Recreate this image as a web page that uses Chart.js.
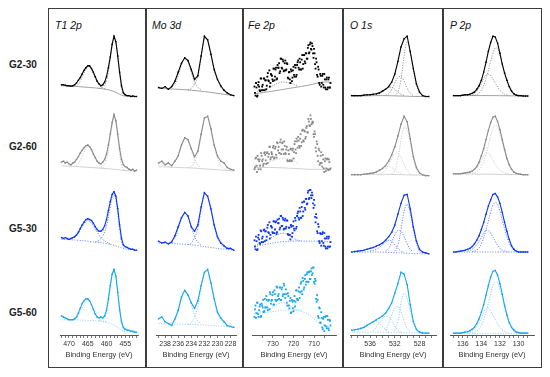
<!DOCTYPE html>
<html>
<head>
<meta charset="utf-8">
<script src="https://cdn.jsdelivr.net/npm/chart.js@4.4.1/dist/chart.umd.min.js"></script>
<style>
  html, body { margin: 0; padding: 0; background: #fff; }
  #fig { position: relative; width: 550px; height: 377px; overflow: hidden; font-family: 'Liberation Sans', Arial, sans-serif; }
  #fig canvas { position: absolute; }
  .frame { position: absolute; left: 48px; top: 8px; width: 494px; height: 360px; box-sizing: border-box; border: 1.5px solid #3c3c3c; }
  .vline { position: absolute; top: 8px; width: 1.5px; height: 360px; background: #3c3c3c; }
  .row-label { position: absolute; left: 0; width: 46px; text-align: center; font-weight: bold; font-size: 10px; color: #222; }
  .title { position: absolute; top: 19px; font-style: italic; font-size: 10.5px; color: #111; }
</style>
</head>
<body>
<div id="fig">
  <div class="frame"></div>
  <div class="vline" style="left:145px"></div>
  <div class="vline" style="left:242px"></div>
  <div class="vline" style="left:342px"></div>
  <div class="vline" style="left:442px"></div>
</div>
<script>
// ---- sample names and panel titles ----
const rowNames = ['G2-30', 'G2-60', 'G5-30', 'G5-60'];
const panelTitles = ['T1 2p', 'Mo 3d', 'Fe 2p', 'O 1s', 'P 2p'];
const axisTitle = 'Binding Energy (eV)';

// ---- Ti 2p ----
const tiEnergy = [472,471.5,471,470.5,470,469.5,469,468.5,468,467.5,467,466.5,466,465.5,465,464.5,464,463.5,463,462.5,462,461.5,461,460.5,460,459.5,459,458.5,458,457.5,457,456.5,456,455.5,455,454.5,454,453.5,453,452.5,452];
const tiG230 = [18,18,17.5,17,17,16.5,17,18,20,23,26,30,34,37,39,39,36,32,27,22,19,17,18,21,27,37,49,63,72,66,50,32,17,9,7,6,6,5,5.5,5,5];
const tiG260 = [21,22,20,21,19,18,20,21,24,27,31,34,37,39,40,38,35,30,26,22,20,19,21,24,30,40,52,65,74,67,52,36,24,18,16,15,13,12,13,11,12];
const tiG530 = [26,25,26,25,24,25,26,27,29,32,36,40,43,46,47,46,45,42,38,35,33,33,35,39,46,56,66,74,77,72,58,40,25,18,16,15,14,13,13,12,12];
const tiG560 = [20,19,18,17,16,16,16,17,19,23,28,33,36,38,38,36,32,27,22,19,18,19,18,20,26,38,52,64,69,62,45,27,14,8,6,5,5,4,4,3,3];
const tiBg = [
  [[472,17],[469,16.5],[466,15.5],[463,14.5],[461,13.5],[459.5,12.5],[458,10.5],[457,8.5],[456,6.5],[455,5.5],[452,5]],
  [[472,17],[468,16],[464,15],[461,14],[459,13.5],[457,12.5],[455,11.5],[452,11]],
  [[472,24],[469,23.5],[466,22.5],[463,21],[461,20],[459,18.5],[457,16],[455,13.5],[452,12]],
  [[472,16],[469,16],[466,15.5],[463,15],[461,14],[459,12],[457,8],[456,5],[455,3.5],[452,3]]
];
const tiFits = [
  [[[468,16],[467,22],[466,31],[465,38],[464.5,38.5],[464,35],[463,26],[462,18],[461,14.5],[460,13]],
   [[462,14],[461,15.5],[460,23],[459,46],[458.5,61],[458,70],[457.5,64],[457,48],[456.5,30],[456,15],[455.5,8],[455,6]]],
  [[[468,17],[467,23],[466,32],[465,38],[464.5,38],[464,34],[463,25],[462,18],[461,15],[460,14]],
   [[462,14.5],[461,16],[460,24],[459,48],[458.5,61],[458,70],[457.5,64],[457,48],[456.5,30],[456,17],[455.5,13],[455,12]]],
  [[[470,24],[469,25],[468,28],[467,34],[466,41],[465,45],[464.5,44],[464,42],[463,36],[462,29],[461,24],[460,21],[459,19]],
   [[463,21],[462,23],[461,28],[460,39],[459,60],[458.5,70],[458,74],[457.5,68],[457,53],[456.5,36],[456,22],[455.5,16],[455,14]]],
  [[[469,16],[468,18],[467,25],[466,32],[465,37],[464.5,36],[464,32],[463,24],[462,18],[461,15],[460,14]],
   [[462,15],[461,16.5],[460,24],[459,50],[458.5,62],[458,67],[457.5,61],[457,44],[456.5,26],[456,12],[455.5,6],[455,4]]]
];
const tiTicks = [472,471,470,469,468,467,466,465,464,463,462,461,460,459,458,457,456,455,454,453,452];
const tiLabels = [470,465,460,455];

// ---- Mo 3d ----
const moEnergy = [239,238.5,238,237.5,237,236.5,236,235.5,235,234.5,234,233.5,233,232.5,232,231.5,231,230.5,230,229.5,229,228.5,228,227.5];
const moG230 = [15,14,16,13,16,22,32,42,48,45,35,24,28,50,72,68,52,35,24,17,12,9,7,6];
const moG260 = [20,22,18,20,17,22,28,40,48,46,36,27,33,52,70,72,58,40,28,22,20,15,13,12];
const moG530 = [22,20,21,19,21,28,38,48,54,50,38,33,40,60,76,72,58,40,27,20,17,14,14,12];
const moG560 = [17,19,14,12,10,17,26,40,47,42,34,28,36,52,66,69,55,38,24,18,14,10,9,8];
const moBg = [
  [[239,14],[236,13],[234,12],[232,10.5],[230,8.5],[228,6.5],[227.5,6]],
  [[239,16],[236,15],[234,14.5],[232,13.5],[230,12.5],[228,11.5],[227.5,11]],
  [[239,20],[236,19],[234,18],[232,16],[230,14],[228,12.5],[227.5,12]],
  [[239,12],[236,11.5],[234,11],[232,10.5],[230,9.5],[228,8.5],[227.5,8]]
];
const moFits = [
  [[[237.5,13.5],[236.5,19],[236,28],[235.5,40],[235,47],[234.5,43],[234,32],[233.5,21],[233,15],[232.5,12.5]],
   [[234.5,12],[234,14],[233.5,19],[233,27],[232.5,48],[232,70],[231.5,67],[231,51],[230.5,34],[230,23],[229.5,15],[229,11],[228.5,8],[228,7]]],
  [[[237.5,16],[236.5,21],[236,29],[235.5,40],[235,47],[234.5,44],[234,34],[233.5,24],[233,18],[232.5,15]],
   [[234.5,14.5],[234,16],[233.5,21],[233,30],[232.5,50],[232,68],[231.5,71],[231,57],[230.5,38],[230,25],[229.5,17],[229,14],[228.5,12],[228,11.5]]],
  [[[237.5,19.5],[236.5,26],[236,36],[235.5,47],[235,53],[234.5,49],[234,38],[233.5,27],[233,21],[232.5,18]],
   [[234.5,18],[234,20],[233.5,26],[233,36],[232.5,57],[232,74],[231.5,71],[231,57],[230.5,39],[230,26],[229.5,19],[229,15.5],[228.5,13.5],[228,12.5]]],
  [[[237.5,11.5],[236.5,16],[236,25],[235.5,39],[235,46],[234.5,42],[234,32],[233.5,21],[233,15],[232.5,12]],
   [[234.5,11],[234,13],[233.5,19],[233,30],[232.5,50],[232,65],[231.5,68],[231,54],[230.5,37],[230,23],[229.5,16],[229,12],[228.5,9.5],[228,8.5]]]
];
const moTicks = [239,238,237,236,235,234,233,232,231,230,229,228];
const moLabels = [238,236,234,232,230,228];

// ---- Fe 2p (two interleaved scans) ----
const feEnergyA = [739,738.5,738,737.5,737,736.5,736,735.5,735,734.5,734,733.5,733,732.5,732,731.5,731,730.5,730,729.5,729,728.5,728,727.5,727,726.5,726,725.5,725,724.5,724,723.5,723,722.5,722,721.5,721,720.5,720,719.5,719,718.5,718,717.5,717,716.5,716,715.5,715,714.5,714,713.5,713,712.5,712,711.5,711,710.5,710,709.5,709,708.5,708,707.5,707,706.5,706,705.5,705,704.5,704,703.5,703,702.5,702];
const feEnergyB = [738.75,738.25,737.75,737.25,736.75,736.25,735.75,735.25,734.75,734.25,733.75,733.25,732.75,732.25,731.75,731.25,730.75,730.25,729.75,729.25,728.75,728.25,727.75,727.25,726.75,726.25,725.75,725.25,724.75,724.25,723.75,723.25,722.75,722.25,721.75,721.25,720.75,720.25,719.75,719.25,718.75,718.25,717.75,717.25,716.75,716.25,715.75,715.25,714.75,714.25,713.75,713.25,712.75,712.25,711.75,711.25,710.75,710.25,709.75,709.25,708.75,708.25,707.75,707.25,706.75,706.25,705.75,705.25,704.75,704.25,703.75,703.25,702.75,702.25];
const feG230A = [16,6,15,6,21,12,25,12,18,25,12,23,17,31,22,16,30,28,22,36,27,37,25,37,42,33,47,36,44,34,45,35,41,25,32,20,33,26,38,27,37,29,43,37,47,35,46,36,51,44,53,47,59,53,63,58,64,53,58,41,47,29,38,20,30,16,28,18,30,15,24,13,24,15,20];
const feG230B = [9,20,5,18,16,11,25,16,12,25,23,13,27,23,34,20,29,24,36,23,35,24,40,37,31,47,37,46,33,42,34,42,26,32,24,35,22,34,29,40,27,40,45,35,43,35,51,41,51,42,53,47,62,54,65,57,61,48,53,36,43,27,35,18,28,20,30,15,24,13,26,15,26,15];
const feG260A = [13,25,17,28,13,24,13,28,24,19,32,23,31,20,30,38,26,30,37,25,36,29,43,34,31,43,30,42,35,44,31,35,23,34,22,35,22,34,25,41,35,47,37,45,37,52,43,57,44,55,49,61,54,66,61,69,64,65,49,52,33,41,22,34,20,32,16,24,10,25,14,25,12,21,14];
const feG260B = [15,26,10,24,22,17,31,22,17,31,29,19,32,27,38,24,32,27,39,26,38,26,42,38,31,46,35,43,30,39,30,38,22,30,23,36,23,36,32,44,31,44,49,39,47,39,56,45,56,47,59,54,69,62,73,63,66,52,55,37,44,28,36,18,28,20,29,14,22,11,24,13,24,13];
const feG530A = [23,13,22,13,29,20,34,21,27,34,22,33,27,40,31,25,39,37,31,44,35,44,32,42,47,37,50,39,46,36,47,38,45,29,37,24,38,31,44,34,45,38,53,48,59,48,60,50,66,59,69,63,76,69,79,73,76,64,68,49,52,33,41,22,31,17,30,20,31,16,25,14,25,16,21];
const feG530B = [16,27,12,26,24,19,33,25,21,35,33,23,37,32,43,29,38,32,44,31,43,30,46,42,35,50,39,48,35,45,36,45,30,37,29,40,27,39,36,48,36,50,55,46,55,48,65,55,66,57,69,64,78,70,79,70,73,59,62,43,48,31,38,20,30,22,32,17,25,14,27,16,27,16];
const feG560A = [19,31,23,34,19,30,19,33,29,24,38,29,37,26,37,45,33,37,45,32,43,36,50,41,38,50,37,50,43,52,39,43,31,41,28,39,24,35,25,41,35,47,37,46,39,54,46,60,48,59,53,64,56,66,59,67,63,71,56,59,38,42,20,29,13,24,8,17,4,19,9,20,7,16,10];
const feG560B = [27,18,34,22,26,32,20,31,37,25,29,41,29,36,27,43,36,42,32,47,37,51,37,43,50,37,48,41,54,43,48,34,44,31,36,23,37,28,36,30,47,38,37,50,45,56,43,57,50,63,56,66,56,67,59,70,65,71,54,57,35,37,18,28,13,18,6,19,10,20,7,16,5,15];
const feBg = [
  [[739,8],[730,11],[722,14],[714,17],[710,19],[706,21],[702,21]],
  [[739,15],[730,15],[720,14],[712,13],[707,13],[702,13]],
  [[739,16],[730,20],[722,22],[712,22],[706,22],[702,21]],
  [[739,22],[732,24],[725,26],[718,26],[713,22],[709,15],[705,10],[702,9]]
];
const feFits = [
  [[[739,9],[731,16],[726,21],[722,20],[718,17]]],
  [[[739,16],[732,21],[726,25],[722,24],[718,20]]],
  [[[739,17],[733,23],[728,29],[725,31],[722,28],[719,24],[716,22]]],
  [[[739,23],[733,26],[728,32],[725,34],[722,31],[719,27],[716,26]]]
];
const feTicks = [735,730,725,720,715,710,705];
const feLabels = [730,720,710];

// ---- O 1s ----
const oEnergy = [539,538.5,538,537.5,537,536.5,536,535.5,535,534.5,534,533.5,533,532.5,532,531.5,531,530.5,530,529.5,529,528.5,528,527.5,527,526.5];
const oG230 = [6,6,6,6,6.5,7,7,7.5,8,9,11,13,16,21,30,44,60,69,72,55,36,19,10,6,5,5];
const oG260 = [7,7,7,7,7.5,8,8.5,9,10,12,14,17,22,29,38,50,63,72,66,47,27,15,9,7,6,6];
const oG530 = [10,10.5,11,11.5,12,13,14,15,16.5,18,20,23,27,32,40,52,64,73,74,58,38,22,13,10,9,8];
const oG560 = [5,5.5,6,7,8,10,12,14,16,18,20,23,28,34,44,54,66,64,53,32,14,6,3,2,2,2];
const oBg = [
  [[539,5.5],[534,6],[531,5.5],[528,5],[526.5,5]],
  [[539,7],[534,7.5],[531,7],[528,6.5],[526.5,6]],
  [[539,9.5],[535,10],[531,9],[528,8],[526.5,8]],
  [[539,3],[535,3],[531,2.5],[528,2],[526.5,2]]
];
const oFits = [
  [[[532,6],[531.5,10],[531,24],[530.5,50],[530,66],[529.5,53],[529,35],[528.5,18],[528,9],[527.5,6],[527,5]],
   [[533.5,6],[533,8],[532.5,13],[532,20],[531.5,26],[531,27],[530.5,22],[530,14],[529.5,9],[529,6]],
   [[535,6.5],[534.5,8],[534,10],[533.5,13],[533,15],[532.5,15],[532,13],[531.5,10],[531,7.5],[530.5,6]]],
  [[[532.5,8],[532,12],[531.5,25],[531,45],[530.5,60],[530,57],[529.5,42],[529,25],[528.5,13],[528,8]],
   [[534,9],[533.5,12],[533,18],[532.5,25],[532,30],[531.5,31],[531,26],[530.5,18],[530,12],[529.5,8]],
   [[536,8],[535,9.5],[534.5,11],[534,13],[533.5,15],[533,16],[532.5,15],[532,12],[531.5,10],[531,8]]],
  [[[532,11],[531.5,18],[531,35],[530.5,55],[530,63],[529.5,53],[529,35],[528.5,20],[528,11],[527.5,8.5]],
   [[533.5,11],[533,14],[532.5,21],[532,29],[531.5,34],[531,33],[530.5,27],[530,19],[529.5,13],[529,10]],
   [[536,11],[535,13],[534.5,15],[534,18],[533.5,21],[533,23],[532.5,22],[532,18],[531.5,14],[531,11],[530.5,9.5]]],
  [[[532,5],[531.5,15],[531,33],[530.5,44],[530,38],[529.5,25],[529,12],[528.5,5],[528,3]],
   [[533.5,5],[533,12],[532.5,21],[532,28],[531.5,30],[531,25],[530.5,15],[530,7],[529.5,3.5]],
   [[535.5,4],[535,8],[534.5,13],[534,17],[533.5,20],[533,19],[532.5,15],[532,9],[531.5,5],[531,3]],
   [[538,4],[537.5,6],[537,9],[536.5,11],[536,13],[535.5,14],[535,14],[534.5,12],[534,9],[533.5,6],[533,4]]]
];
const oTicks = [539,538,537,536,535,534,533,532,531,530,529,528,527,526];
const oLabels = [536,532,528];

// ---- P 2p ----
const pEnergy = [137,136.75,136.5,136.25,136,135.75,135.5,135.25,135,134.75,134.5,134.25,134,133.75,133.5,133.25,133,132.75,132.5,132.25,132,131.75,131.5,131.25,131,130.75,130.5,130.25,130,129.75,129.5,129.25,129];
const pG230 = [6,6,6,6,6.5,7,7,7.5,8.5,10,13,17,23,32,43,55,65,72,71,64,53,41,31,23,16,11,8,6.5,6,6,5.5,5.5,5.5];
const pG260 = [8,8,8,8,8.5,9,9.5,10,11,13,16,21,28,36,46,56,65,71,72,66,57,46,35,25,18,13,10,8.5,8,7.5,7,7,7];
const pG530 = [10,10,10.5,11,11.5,12,13,14,16,19,23,28,35,43,52,61,68,74,75,71,64,54,43,33,24,17,13,11,10,10,10,10,10];
const pG560 = [2,2,2,2,2.5,3,3.5,4.5,6,8,12,17,24,32,42,52,61,67,68,63,54,43,31,21,13,8,5,3,2.5,2,2,2,2];
const pBg = [
  [[137,6],[133,6],[129,5.5]],
  [[137,8],[133,7.5],[129,7]],
  [[137,10],[133,10],[129,10]],
  [[137,1.5],[133,1.5],[129,1.5]]
];
const pFits = [
  [[[135,6],[134.5,7],[134,12],[133.5,25],[133,44],[132.75,53],[132.5,59],[132.25,58],[132,51],[131.5,32],[131,16],[130.5,8],[130,6]],
   [[135.5,6],[135,7],[134.5,11],[134,19],[133.75,25],[133.5,29],[133.25,30],[133,28],[132.5,20],[132,12],[131.5,7.5],[131,6]]],
  [[[135,8.5],[134.5,10],[134,16],[133.5,30],[133,50],[132.75,58],[132.5,62],[132.25,60],[132,52],[131.5,34],[131,18],[130.5,10],[130,8]],
   [[135.5,8.5],[135,10],[134.5,15],[134,23],[133.75,28],[133.5,31],[133.25,31],[133,28],[132.5,19],[132,12],[131.5,9],[131,8]]],
  [[[135,10.5],[134.5,12],[134,19],[133.5,35],[133,54],[132.75,62],[132.5,65],[132.25,63],[132,55],[131.5,36],[131,20],[130.5,12],[130,10]],
   [[135.5,11],[135,13],[134.5,18],[134,26],[133.75,31],[133.5,34],[133.25,34],[133,31],[132.5,22],[132,14],[131.5,11],[131,10]]],
  [[[135,2],[134.5,4],[134,10],[133.5,24],[133,43],[132.75,52],[132.5,56],[132.25,55],[132,48],[131.5,31],[131,15],[130.5,6],[130,3]],
   [[135.5,2],[135,4],[134.5,9],[134,18],[133.75,24],[133.5,28],[133.25,28],[133,25],[132.5,16],[132,8],[131.5,4],[131,2]]]
];
const pTicks = [137,136.5,136,135.5,135,134.5,134,133.5,133,132.5,132,131.5,131,130.5,130,129.5,129];
const pLabels = [136,134,132,130];

// ---- styling / layout ----
const FONT = "'Liberation Sans', Arial, sans-serif";
const TICK_FONT = "'Liberation Sans Narrow', 'Liberation Sans', Arial, sans-serif";
const rowColors = ['#000000', '#8a8a8a', '#0b35f5', '#14a6f0'];
const fitColors = ['#8a8a8a', '#c6c6c6', '#5b7af7', '#86cdf4'];
const rowTops = [25, 105, 185, 255];
const rowLabelTops = [59, 141, 223, 307];
const PLOT_H = 80;
const AXIS_H = 24;

const columns = [
  { left: 56, width: 86, min: 451.6, max: 472.4, titleX: 55,
    series: [tiG230, tiG260, tiG530, tiG560].map(s => [[tiEnergy, s]]),
    bg: tiBg, fits: tiFits, ticks: tiTicks, labels: tiLabels, scatter: false },
  { left: 152, width: 88, min: 227.17, max: 239.39, titleX: 152,
    series: [moG230, moG260, moG530, moG560].map(s => [[moEnergy, s]]),
    bg: moBg, fits: moFits, ticks: moTicks, labels: moLabels, scatter: false },
  { left: 248, width: 92, min: 699.3, max: 740.2, titleX: 248,
    series: [[feG230A, feG230B], [feG260A, feG260B], [feG530A, feG530B], [feG560A, feG560B]]
      .map(([a, b]) => [[feEnergyA, a], [feEnergyB, b]]),
    bg: feBg, fits: feFits, ticks: feTicks, labels: feLabels, scatter: true },
  { left: 346, width: 94, min: 525.33, max: 539.26, titleX: 350,
    series: [oG230, oG260, oG530, oG560].map(s => [[oEnergy, s]]),
    bg: oBg, fits: oFits, ticks: oTicks, labels: oLabels, scatter: false },
  { left: 446, width: 92, min: 128.33, max: 137.38, titleX: 450,
    series: [pG230, pG260, pG530, pG560].map(s => [[pEnergy, s]]),
    bg: pBg, fits: pFits, ticks: pTicks, labels: pLabels, scatter: false }
];

const fig = document.getElementById('fig');

rowNames.forEach((name, r) => {
  const el = document.createElement('div');
  el.className = 'row-label';
  el.style.top = rowLabelTops[r] + 'px';
  el.textContent = name;
  fig.appendChild(el);
});

panelTitles.forEach((t, c) => {
  const el = document.createElement('div');
  el.className = 'title';
  el.style.left = columns[c].titleX + 'px';
  el.textContent = t;
  fig.appendChild(el);
});

const pairs = arr => arr.map(([x, y]) => ({ x, y }));

function makePanel(col, r) {
  const isBottom = r === 3;
  const h = isBottom ? PLOT_H + AXIS_H : PLOT_H;
  const canvas = document.createElement('canvas');
  canvas.width = col.width;
  canvas.height = h;
  canvas.style.left = col.left + 'px';
  canvas.style.top = rowTops[r] + 'px';
  canvas.style.width = col.width + 'px';
  canvas.style.height = h + 'px';
  fig.appendChild(canvas);

  const color = rowColors[r];
  const fitColor = fitColors[r];
  const dotted = r >= 2;
  const datasets = [];

  // measured points first so they sit on top
  col.series[r].forEach(([xs, ys]) => {
    datasets.push({
      data: ys.map((y, i) => ({ x: xs[i], y })),
      showLine: !col.scatter,
      borderColor: color,
      borderWidth: 1.1,
      pointRadius: col.scatter ? 1.3 : 1,
      pointStyle: 'rect',
      pointBackgroundColor: color,
      pointBorderWidth: 0,
      tension: 0
    });
  });

  col.fits[r].forEach(fit => {
    datasets.push({
      data: pairs(fit),
      borderColor: fitColor,
      borderWidth: 0.9,
      borderDash: [1.2, 1.4],
      pointRadius: 0,
      tension: 0.4
    });
  });

  datasets.push({
    data: pairs(col.bg[r]),
    borderColor: fitColor,
    borderWidth: 0.8,
    borderDash: dotted ? [1.2, 1.4] : [],
    pointRadius: 0,
    tension: 0.3
  });

  const xScale = isBottom ? {
    type: 'linear', min: col.min, max: col.max, reverse: true,
    afterBuildTicks: ax => { ax.ticks = col.ticks.map(v => ({ value: v })); },
    afterFit: ax => { ax.height = AXIS_H; ax.paddingLeft = 0; ax.paddingRight = 0; },
    ticks: {
      autoSkip: false, maxRotation: 0, minRotation: 0, padding: 2,
      color: '#333', font: { family: TICK_FONT, size: 7 },
      callback: v => col.labels.includes(v) ? String(v) : ''
    },
    grid: { drawOnChartArea: false, drawTicks: true, tickLength: 3, color: '#555', lineWidth: 0.8 },
    border: { display: true, color: '#555', width: 1 },
    title: { display: true, text: axisTitle, color: '#333', font: { family: FONT, size: 7.5 }, padding: 0 }
  } : { type: 'linear', display: false, min: col.min, max: col.max, reverse: true };

  new Chart(canvas.getContext('2d'), {
    type: 'line',
    data: { datasets },
    options: {
      responsive: false,
      animation: false,
      devicePixelRatio: 1,
      events: [],
      layout: { padding: 0 },
      plugins: { legend: { display: false }, tooltip: { enabled: false } },
      scales: {
        x: xScale,
        y: { display: false, min: 0, max: PLOT_H }
      }
    }
  });
}

columns.forEach(col => {
  for (let r = 0; r < 4; r++) makePanel(col, r);
});
</script>
</body>
</html>
